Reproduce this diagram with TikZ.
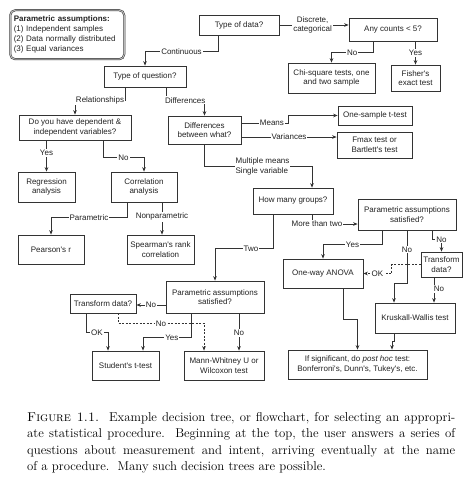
\documentclass[tikz,border=0pt]{standalone}
\usepackage{fontspec}
\newfontfamily\chartfont{Liberation Sans}
\usetikzlibrary{arrows.meta,calc}
\definecolor{flowline}{HTML}{333333}
\definecolor{flowtext}{HTML}{222222}

\begin{document}
\begin{tikzpicture}[x=1pt, y=-1pt,
  box/.style={draw=flowline, line width=0.75pt, inner sep=1pt, align=center, text=flowtext, font=\chartfont\fontsize{8}{9.6}\selectfont},
  assume/.style={draw=flowline, line width=0.5pt, double=gray!55, double distance=1pt, rounded corners=5pt, anchor=north west, align=left, text width=107, inner xsep=3.5, inner ysep=4, minimum height=49, text=flowtext, font=\chartfont\fontsize{8}{10}\selectfont},
  lbl/.style={fill=white, inner sep=1pt, text=flowtext, font=\chartfont\fontsize{8}{9.6}\selectfont},
  link/.style={draw=flowline, line width=0.75pt, -{Stealth[length=4.5pt, width=3.6pt]}},
  dlink/.style={link, dash pattern=on 2pt off 1.5pt},
]
\useasboundingbox (0,0) rectangle (473,487);
% x and y in pixels of the 473x487 page, y going down
\node[assume] (assume) at (10,10) {\textbf{Parametric assumptions:}\\(1) Independent samples\\(2) Data normally distributed\\(3) Equal variances};

\node[box, minimum width=80, minimum height=20] (typedata) at (239,25) {Type of data?};
\node[box, minimum width=88, minimum height=23] (counts) at (393,29.5) {Any counts < 5?};
\node[box, minimum width=87, minimum height=30] (chisq) at (331.5,78) {Chi-square tests, one\\and two sample};
\node[box, minimum width=49, minimum height=26] (fisher) at (415.5,78) {Fisher's\\exact test};
\node[box, minimum width=82, minimum height=21] (question) at (145,76.5) {Type of question?};
\node[box, minimum width=112, minimum height=25] (depvars) at (75,127.5) {Do you have dependent \&\\independent variables?};
\node[box, minimum width=57, minimum height=30] (regress) at (46.5,187) {Regression\\analysis};
\node[box, minimum width=66, minimum height=30] (correl) at (144,187) {Correlation\\analysis};
\node[box, minimum width=66, minimum height=29] (pearson) at (51,249.5) {Pearson's r};
\node[box, minimum width=67, minimum height=29] (spearman) at (160.5,249.5) {Spearman's rank\\correlation};
\node[box, minimum width=73, minimum height=28] (diffwhat) at (204.5,130) {Differences\\between what?};
\node[box, minimum width=74, minimum height=19] (onesamp) at (375,115.5) {One-sample t-test};
\node[box, minimum width=75, minimum height=26] (fmax) at (374.5,145) {Fmax test or\\Bartlett's test};
\node[box, minimum width=80, minimum height=26] (groups) at (293,201) {How many groups?};
\node[box, minimum width=98, minimum height=31] (paramR) at (407,214.5) {Parametric assumptions\\satisfied?};
\node[box, minimum width=98, minimum height=32] (paramL) at (215,297) {Parametric assumptions\\satisfied?};
\node[box, minimum width=41, minimum height=25] (transR) at (441.5,264.5) {Transform\\data?};
\node[box, minimum width=80, minimum height=29] (anova) at (323,273.5) {One-way ANOVA};
\node[box, minimum width=80, minimum height=30] (kruskal) at (415,318) {Kruskall-Wallis test};
\node[box, minimum width=139, minimum height=29] (posthoc) at (357.5,364.5) {If significant, do \textit{post hoc} test:\\Bonferroni's, Dunn's, Tukey's, etc.};
\node[box, minimum width=66, minimum height=19] (transL) at (103,303.5) {Transform data?};
\node[box, minimum width=67, minimum height=29] (student) at (125.5,365.5) {Student's t-test};
\node[box, minimum width=80, minimum height=29] (mann) at (224,365.5) {Mann-Whitney U or\\Wilcoxon test};

% type of data
\draw[link] (typedata.south -| 218,0) -- ++(0,16) -| node[lbl, pos=0.25]{Continuous} (question.north);
\draw[link] (typedata.east) -- node[lbl, align=center, pos=0.48]{Discrete,\\categorical} (typedata.east -| counts.west);
\draw[link] (counts.south -| 373,0) -- ++(0,11) -| node[lbl, pos=0.25]{No} (chisq.north);
\draw[link] (fisher.north |- counts.south) -- node[lbl]{Yes} (fisher.north);

% type of question
\draw[link] (question.south -| 125,0) -- ++(0,13) -| node[lbl, pos=0.25]{Relationships} (depvars.north);
\draw[link] (question.south -| 166,0) -- ++(0,13) -| node[lbl, pos=0.25]{Differences} (diffwhat.north);
\draw[link] (regress.north |- depvars.south) -- node[lbl, pos=0.4]{Yes} (regress.north);
\draw[link] (depvars.south -| 103,0) -- ++(0,17) -| node[lbl, pos=0.25]{No} (correl.north);
\draw[link] (correl.south -| 127,0) -- ++(0,15) -| node[lbl, pos=0.25]{Parametric} (pearson.north);
\draw[link] (correl.south -| 162,0) -- node[lbl, pos=0.45]{Nonparametric} (spearman.north -| 162,0);

% differences
\coordinate (means) at ([yshift=7]diffwhat.east);
\coordinate (vars) at ([yshift=-7]diffwhat.east);
\draw[link] (means) -- node[lbl, pos=0.65]{Means} ++(47,0) |- (onesamp.west);
\draw[link] (vars) -- node[lbl]{Variances} (vars -| fmax.west);
\draw[link] (diffwhat.south) -- ++(0,22) -| node[lbl, pos=0.27, align=left]{Multiple means\\Single variable} ([xshift=19]groups.north);

% how many groups
\draw[link] ([xshift=19]groups.south) |- node[lbl, pos=0.5, xshift=5]{More than two} ([yshift=-9.5]paramR.west);
\draw[link] ([xshift=-20]groups.south) -- ++(0,34) -| node[lbl, pos=0.19]{Two} (paramL.north);

% more than two
\draw[link] ([xshift=-25]paramR.south) -- ++(0,14) -| node[lbl, pos=0.25]{Yes} (anova.north);
\draw[link] (paramR.south) -- node[lbl, pos=0.36]{No} ++(0,53) -| ([xshift=-21]kruskal.north);
\draw[link] ([xshift=25]paramR.south) -- ++(0,9) -| node[lbl, pos=0.5]{No} (transR.north);
\draw[dlink] (transR.west) -- ++(-29,0) |- node[lbl, pos=0.75]{OK} (anova.east);
\coordinate (trno) at ([xshift=-7.5]transR.south);
\draw[link] (trno) -- node[lbl, pos=0.45, xshift=5]{No} (trno |- kruskal.north);
\draw[link] ([xshift=20]anova.south) -- ++(0,31) -| (posthoc.north);
\draw[link] ([xshift=-21]kruskal.south) -- ++(0,8) -| ([xshift=34.5]posthoc.north);

% two
\coordinate (plno) at ([yshift=-8]paramL.west);
\draw[link] (plno) -- node[lbl]{No} (plno -| transL.east);
\draw[link] ([xshift=-17]transL.south) -- ++(0,19) -| node[lbl, pos=0.25]{OK} ([xshift=-17.5]student.north);
\draw[dlink] ([xshift=15]transL.south) -- ++(0,10) -| node[lbl, pos=0.25]{No} ([xshift=-20]mann.north);
\draw[link] ([xshift=-24]paramL.south) -- ++(0,24) -| node[lbl, pos=0.2]{Yes} ([xshift=17.5]student.north);
\draw[link] ([xshift=24]paramL.south) -- node[lbl, pos=0.53]{No} ([xshift=15]mann.north);

\node[anchor=north west, text width=428, align=justify, inner sep=0pt, font=\fontsize{12.8}{16.5}\selectfont] (caption) at (27,412)
  {\textsc{Figure 1.1.}\ \ Example decision tree, or flowchart, for selecting an appropri-\linebreak
   ate statistical procedure.\ \ Beginning at the top, the user answers a series of\linebreak
   questions about measurement and intent, arriving eventually at the name\linebreak
   of a procedure.\ \ Many such decision trees are possible.};
\end{tikzpicture}
\end{document}
